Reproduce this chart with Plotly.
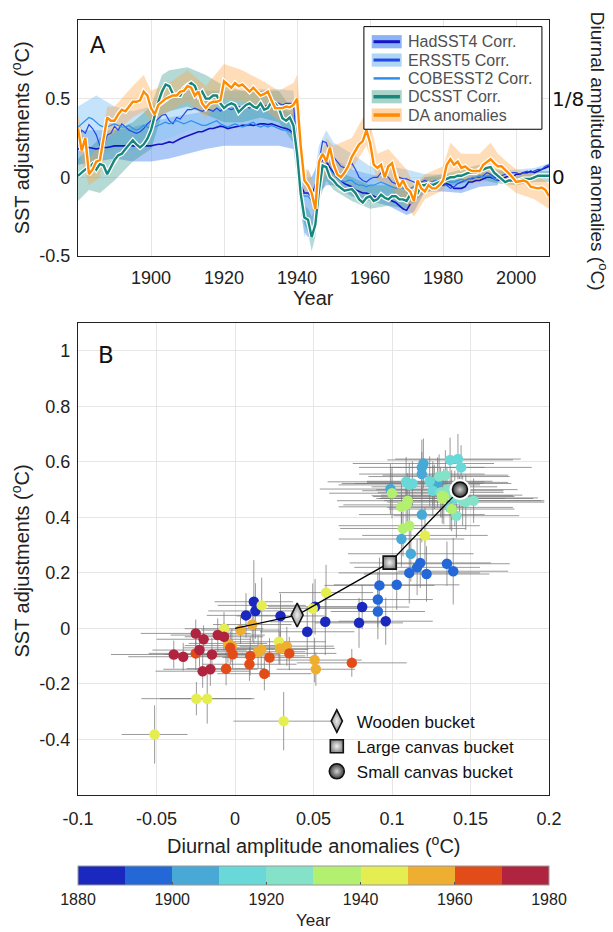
import plotly.graph_objects as go

# ---------------- Panel A data ----------------
YEARS = list(range(1880, 2010))

HADSST4 = [
    0.18, 0.185, 0.19, 0.19, 0.185, 0.18, 0.185, 0.19, 0.19, 0.195,
    0.20, 0.20, 0.20, 0.20, 0.205, 0.20, 0.20, 0.20, 0.20, 0.20,
    0.20, 0.205, 0.21, 0.21, 0.22, 0.225, 0.22, 0.235, 0.245, 0.255,
    0.265, 0.27, 0.28, 0.29, 0.29, 0.30, 0.31, 0.31, 0.32, 0.325,
    0.32, 0.31, 0.315, 0.32, 0.325, 0.33, 0.33, 0.335, 0.33, 0.335,
    0.34, 0.34, 0.335, 0.34, 0.33, 0.32, 0.315, 0.31, 0.30, 0.28,
    0.15, -0.05, -0.10, -0.10, -0.12, -0.05, 0.05, 0.12, 0.10, 0.06,
    0.03, 0.0, -0.02, -0.04, -0.05, -0.06, -0.08, -0.09, -0.10, -0.10,
    -0.11, -0.12, -0.13, -0.12, -0.13, -0.14, -0.15, -0.16, -0.18, -0.20,
    -0.21, -0.17, None, None, -0.06, -0.05, -0.04, -0.05, -0.05, -0.04,
    -0.05, -0.04, -0.05, -0.07, -0.07, -0.07, -0.06, -0.03, -0.03, -0.02,
    -0.02, -0.01, 0.0, 0.0, -0.01, -0.02, -0.01, 0.0, 0.01, 0.0,
    0.02, 0.02, 0.03, 0.03, 0.04, 0.03, 0.04, 0.05, 0.06, 0.07,
]
ERSST5 = [
    0.245, 0.30, 0.28, 0.335, 0.31, 0.27, 0.20, 0.19, 0.27, 0.28,
    0.325, 0.30, 0.34, 0.32, 0.30, 0.29, 0.28, 0.29, 0.31, 0.34,
    0.36, 0.35, 0.37, 0.395, 0.40, 0.36, 0.34, 0.38, 0.37, 0.40,
    0.43, 0.43, 0.44, 0.43, 0.42, 0.43, 0.43, 0.42, 0.44, 0.42,
    0.44, 0.44, 0.43, 0.44, 0.45, 0.445, 0.45, 0.44, 0.46, 0.45,
    0.44, 0.45, 0.46, 0.46, 0.48, 0.47, 0.46, 0.47, 0.47, 0.47,
    0.20, -0.10, -0.10, -0.10, -0.12, -0.08, 0.10, 0.23, 0.22, 0.15,
    0.13, 0.10, 0.07, 0.06, 0.07, 0.09, 0.05, 0.0, -0.02, -0.03,
    -0.01, 0.0, 0.0, 0.03, 0.02, 0.0, -0.03, -0.04, 0.0, -0.01,
    -0.01, -0.02, -0.03, -0.04, -0.03, -0.02, -0.03, -0.03, -0.02, -0.03,
    -0.04, -0.05, -0.07, -0.06, -0.04, -0.03, -0.02, -0.01, -0.01, 0.0,
    0.0, 0.01, 0.03, 0.02, 0.0, 0.0, 0.01, 0.02, 0.02, 0.03,
    0.03, 0.02, 0.03, 0.04, 0.03, 0.04, 0.05, 0.05, 0.07, 0.08,
]
COBESST2 = [
    0.32, 0.34, 0.36, 0.38, 0.37, 0.35, 0.33, 0.32, 0.32, 0.33,
    0.34, 0.33, 0.32, 0.32, 0.33, 0.31, 0.30, 0.31, 0.33, 0.32,
    0.31, 0.32, 0.33, 0.34, 0.35, 0.34, 0.35, 0.36, 0.35, 0.34,
    0.35, 0.36, 0.35, 0.34, 0.33, 0.33, 0.34, 0.35, 0.36, 0.34,
    0.33, 0.32, 0.33, 0.34, 0.33, 0.32, 0.33, 0.34, 0.35, 0.33,
    0.32, 0.33, 0.32, 0.33, 0.32, 0.31, 0.30, 0.30, 0.29, 0.27,
    0.10, -0.10, -0.12, -0.12, -0.15, -0.10, 0.02, 0.08, 0.07, 0.05,
    0.02, 0.0, -0.02, -0.03, -0.02, -0.02, -0.04, -0.05, -0.05, -0.06,
    -0.05, -0.05, -0.04, -0.03, -0.04, -0.05, -0.06, -0.07, -0.06, -0.07,
    -0.08, -0.07, -0.06, -0.05, -0.04, -0.04, -0.03, -0.03, -0.02, -0.03,
    -0.02, -0.02, -0.03, -0.03, -0.02, -0.01, -0.02, -0.01, 0.0, 0.0,
    0.01, 0.0, 0.01, 0.01, -0.01, -0.02, None, None, None, None,
    None, None, None, None, None, None, None, None, None, None,
]
DCSST = [
    0.01, 0.03, 0.05, 0.06, 0.085, 0.05, 0.085, 0.075, 0.02, 0.065,
    0.11, 0.14, 0.15, 0.18, 0.21, 0.235, 0.21, 0.19, 0.21, 0.245,
    0.30, 0.385, 0.48, 0.545, 0.59, 0.58, 0.53, 0.52, 0.52, 0.565,
    0.585, 0.60, 0.58, 0.52, 0.545, 0.50, 0.50, 0.52, 0.52, 0.47,
    0.44, 0.46, 0.47, 0.46, 0.415, 0.44, 0.46, 0.47, 0.45, 0.44,
    0.47, 0.43, 0.44, 0.48, 0.47, 0.44, 0.375, 0.36, 0.38, 0.33,
    0.15, -0.105, -0.256, -0.27, -0.38, -0.30, -0.085, 0.075, 0.065, 0.0,
    -0.02, -0.05, -0.07, -0.085, -0.08, -0.075, -0.10, -0.14, -0.16, -0.13,
    -0.12, -0.15, -0.14, -0.11, -0.13, -0.14, -0.12, -0.12, -0.14, -0.14,
    -0.15, -0.11, -0.09, -0.10, -0.05, -0.05, -0.04, -0.05, -0.04, -0.03,
    -0.02, -0.01, 0.0, 0.0, 0.01, 0.01, 0.02, 0.03, 0.03, 0.03,
    0.05, 0.05, 0.06, 0.065, 0.03, 0.01, -0.01, -0.03, -0.02, -0.02,
    -0.015, -0.02, -0.01, -0.01, -0.01, 0.0, 0.01, 0.01, 0.01, 0.01,
]
DA_ANOM = [
    0.31, 0.17, 0.25, 0.02, 0.05, 0.10, 0.11, 0.26, 0.38, 0.36,
    0.36, 0.40, 0.43, 0.42, 0.45, 0.48, 0.48, 0.49, 0.545, 0.52,
    0.44, 0.40, 0.46, 0.48, 0.50, 0.51, 0.52, 0.52, 0.545, 0.55,
    0.58, 0.57, 0.52, 0.545, 0.47, 0.44, 0.47, 0.48, 0.48, 0.49,
    0.61, 0.59, 0.57, 0.60, 0.58, 0.59, 0.57, 0.545, 0.57, 0.545,
    0.52, 0.53, 0.545, 0.49, 0.44, 0.44, 0.44, 0.45, 0.445, 0.46,
    0.50, 0.20, -0.02, -0.05, -0.10, -0.20, 0.10, 0.15, 0.10, 0.19,
    0.08, 0.02, 0.0, 0.03, 0.07, 0.13, 0.17, 0.21, 0.23, 0.30,
    0.22, 0.08, 0.06, 0.08, 0.0, 0.07, 0.09, 0.0, -0.06, -0.02,
    -0.07, -0.09, -0.15, -0.02, -0.07, -0.09, -0.05, -0.07, -0.07, -0.05,
    -0.02, 0.08, 0.115, 0.08, 0.10, 0.06, 0.07, 0.05, 0.04, 0.04,
    0.04, 0.08, 0.10, 0.115, 0.09, 0.07, 0.07, 0.05, 0.025, 0.0,
    -0.03, -0.025, -0.02, -0.03, -0.06, -0.065, -0.07, -0.065, -0.08, -0.12,
]

HAD_BAND_YEARS = [1880, 1885, 1890, 1895, 1900, 1905, 1910, 1915, 1920, 1925, 1930, 1935, 1939,
                  1940, 1941, 1942, 1943, 1944, 1945, 1946, 1948, 1950, 1955, 1960, 1965, 1970,
                  1972, 1975, 1980, 1985, 1990, 1995]
HAD_BAND_LO = [0.08, 0.10, 0.12, 0.10, 0.10, 0.12, 0.15, 0.18, 0.20, 0.20, 0.20, 0.20, 0.18,
               0.00, -0.20, -0.35, -0.38, -0.38, -0.30, -0.10, -0.05, -0.05, -0.12, -0.15, -0.18, -0.24,
               -0.22, -0.09, -0.09, -0.10, -0.06, -0.05]
HAD_BAND_HI = [0.30, 0.30, 0.30, 0.32, 0.35, 0.38, 0.40, 0.42, 0.45, 0.45, 0.45, 0.44, 0.40,
               0.30, 0.00, -0.05, 0.00, 0.00, 0.05, 0.10, 0.15, 0.12, 0.05, 0.02, 0.00, -0.05,
               -0.10, 0.00, 0.00, -0.02, 0.02, 0.02]

ERS_BAND_YEARS = [1880, 1885, 1890, 1895, 1900, 1905, 1910, 1915, 1920, 1925, 1930, 1935, 1939,
                  1940, 1941, 1942, 1943, 1944, 1945, 1946, 1948, 1950, 1955, 1960, 1965, 1970,
                  1975, 1980, 1985, 1990, 1995, 2000, 2005, 2009]
ERS_BAND_LO = [0.10, 0.12, 0.18, 0.17, 0.22, 0.25, 0.30, 0.30, 0.32, 0.32, 0.32, 0.33, 0.30,
               0.05, -0.20, -0.38, -0.30, -0.25, -0.20, 0.00, 0.10, 0.03, -0.03, -0.10, -0.10, -0.10,
               -0.07, -0.06, -0.06, -0.03, -0.03, -0.01, 0.00, 0.02]
ERS_BAND_HI = [0.45, 0.52, 0.45, 0.42, 0.45, 0.50, 0.55, 0.55, 0.55, 0.55, 0.56, 0.56, 0.55,
               0.35, 0.05, -0.02, 0.05, 0.00, 0.05, 0.20, 0.30, 0.22, 0.15, 0.07, 0.07, 0.05,
               0.02, 0.02, 0.00, 0.03, 0.04, 0.05, 0.06, 0.09]

DC_BAND_YEARS = [1880, 1883, 1886, 1890, 1895, 1900, 1903, 1905, 1910, 1915, 1920, 1925, 1930,
                 1935, 1939, 1940, 1941, 1942, 1943, 1944, 1945, 1946, 1948, 1950, 1955, 1960,
                 1965, 1970, 1975, 1980, 1985, 1990, 1995, 2000, 2005, 2009]
DC_BAND_LO = [-0.15, -0.08, -0.10, -0.02, 0.10, 0.18, 0.40, 0.42, 0.45, 0.40, 0.35, 0.35, 0.38,
              0.35, 0.22, 0.05, -0.20, -0.30, -0.35, -0.47, -0.38, -0.15, -0.02, -0.08, -0.15, -0.20,
              -0.18, -0.20, -0.10, -0.06, -0.04, -0.01, -0.04, -0.05, -0.03, -0.03]
DC_BAND_HI = [0.12, 0.18, 0.25, 0.30, 0.35, 0.45, 0.65, 0.68, 0.70, 0.65, 0.58, 0.55, 0.55,
              0.55, 0.42, 0.25, 0.00, -0.18, -0.20, -0.25, -0.20, 0.02, 0.15, 0.05, 0.00, -0.05,
              -0.05, -0.08, 0.00, 0.02, 0.05, 0.08, 0.05, 0.02, 0.04, 0.04]

DA_BAND_YEARS = [1880, 1883, 1886, 1888, 1890, 1895, 1898, 1900, 1905, 1910, 1915, 1920, 1925,
                 1930, 1935, 1939, 1940, 1941, 1942, 1943, 1944, 1945, 1946, 1948, 1950, 1955,
                 1959, 1960, 1962, 1965, 1970, 1972, 1975, 1980, 1982, 1985, 1990, 1993, 1995,
                 2000, 2005, 2009]
DA_BAND_LO = [0.20, -0.05, 0.00, 0.25, 0.28, 0.38, 0.42, 0.35, 0.42, 0.48, 0.38, 0.50, 0.48,
              0.45, 0.36, 0.38, 0.38, 0.10, -0.10, -0.12, -0.18, -0.30, -0.08, 0.02, 0.00, 0.05,
              0.20, 0.12, -0.02, -0.04, -0.18, -0.25, -0.14, -0.08, 0.02, -0.02, -0.04, 0.03, -0.01,
              -0.10, -0.14, -0.20]
DA_BAND_HI = [0.40, 0.12, 0.20, 0.45, 0.45, 0.58, 0.65, 0.55, 0.60, 0.68, 0.58, 0.72, 0.68,
              0.62, 0.55, 0.60, 0.65, 0.38, 0.05, 0.05, 0.00, -0.12, 0.10, 0.25, 0.20, 0.25,
              0.42, 0.35, 0.15, 0.18, 0.05, -0.05, 0.02, 0.07, 0.22, 0.15, 0.15, 0.22, 0.15,
              0.05, 0.02, -0.04]

LEGEND_A_NAMES = ["HadSST4 Corr.", "ERSST5 Corr.", "COBESST2 Corr.", "DCSST Corr.", "DA anomalies"]
XA_TICKS = [1900, 1920, 1940, 1960, 1980, 2000]
YA_TICKS = [-0.5, 0, 0.5]
YA_LABELS = ["-0.5", "0", "0.5"]
YA2_TICKS = [0, 0.5]
YA2_LABELS = ["0", "1/8"]

# ---------------- Panel B data ----------------
PT_YEAR = list(range(1880, 1980))
PT_X = [
    0.081, 0.079, 0.096, 0.0575, 0.046, 0.029, 0.012, 0.013, 0.007, 0.051,
    0.118, 0.116, 0.111, 0.122, 0.135, 0.139, 0.092, 0.103, 0.091, 0.091,
    0.120, 0.119, 0.119, 0.099, 0.126, 0.129, 0.127, 0.119, 0.106, 0.112,
    0.137, 0.142, 0.144, 0.109, 0.111, 0.126, 0.137, 0.113, 0.124, 0.140,
    0.130, 0.134, 0.141, 0.145, 0.152, 0.147, 0.135, 0.131, 0.143, 0.138,
    0.100, 0.132, 0.132, 0.110, 0.106, 0.107, 0.111, 0.138, 0.109, 0.133,
    0.121, 0.058, 0.0495, 0.017, -0.007, 0.028, -0.0246, -0.0177, -0.0512, 0.031,
    0.011, 0.0035, -0.0045, 0.0147, 0.0167, 0.0286, 0.033, 0.0507, 0.0515, -0.002,
    -0.003, -0.0015, -0.025, -0.0057, 0.0097, 0.0092, 0.0187, 0.022, 0.0346, 0.0744,
    -0.025, -0.020, -0.011, -0.007, -0.0226, -0.039, -0.033, -0.0147, -0.0206, -0.0157,
]
PT_Y = [
    0.077, 0.02, 0.026, 0.024, -0.012, 0.045, 0.096, 0.063, 0.047, 0.078,
    0.236, 0.22, 0.20, 0.196, 0.233, 0.206, 0.155, 0.157, 0.104, 0.061,
    0.594, 0.58, 0.556, 0.502, 0.522, 0.526, 0.51, 0.41, 0.322, 0.269,
    0.607, 0.61, 0.58, 0.528, 0.517, 0.496, 0.436, 0.522, 0.53, 0.468,
    0.547, 0.552, 0.406, 0.46, 0.46, 0.455, 0.50, 0.49, 0.47, 0.48,
    0.487, 0.478, 0.468, 0.46, 0.438, 0.36, 0.37, 0.43, 0.445, 0.475,
    0.335, 0.129, 0.072, 0.083, -0.001, -0.048, -0.253, -0.253, -0.382, -0.334,
    0.014, -0.006, -0.054, -0.084, -0.076, -0.072, -0.064, -0.114, -0.147, -0.062,
    -0.07, -0.093, -0.09, -0.145, -0.099, -0.129, -0.163, -0.105, -0.09, -0.124,
    -0.018, -0.039, -0.024, -0.030, -0.078, -0.094, -0.102, -0.094, -0.154, -0.147,
]
PT_XERR = [
    0.03, 0.028, 0.03, 0.035, 0.03, 0.028, 0.025, 0.03, 0.025, 0.03,
    0.045, 0.04, 0.045, 0.04, 0.04, 0.035, 0.035, 0.04, 0.035, 0.03,
    0.045, 0.04, 0.04, 0.045, 0.05, 0.045, 0.04, 0.04, 0.04, 0.04,
    0.04, 0.04, 0.045, 0.05, 0.045, 0.045, 0.04, 0.045, 0.04, 0.05,
    0.045, 0.04, 0.04, 0.05, 0.045, 0.05, 0.045, 0.04, 0.05, 0.045,
    0.04, 0.045, 0.04, 0.045, 0.04, 0.04, 0.045, 0.04, 0.04, 0.045,
    0.04, 0.03, 0.03, 0.028, 0.025, 0.03, 0.035, 0.03, 0.021, 0.032,
    0.025, 0.025, 0.025, 0.03, 0.03, 0.035, 0.03, 0.03, 0.025, 0.03,
    0.03, 0.03, 0.03, 0.025, 0.035, 0.03, 0.03, 0.03, 0.03, 0.035,
    0.035, 0.03, 0.03, 0.025, 0.03, 0.04, 0.035, 0.03, 0.03, 0.03,
]
PT_YERR = [
    0.08, 0.09, 0.085, 0.12, 0.09, 0.08, 0.15, 0.10, 0.08, 0.10,
    0.09, 0.10, 0.11, 0.10, 0.08, 0.12, 0.10, 0.09, 0.10, 0.10,
    0.09, 0.10, 0.08, 0.09, 0.08, 0.09, 0.08, 0.10, 0.10, 0.10,
    0.08, 0.09, 0.08, 0.09, 0.08, 0.09, 0.08, 0.08, 0.09, 0.10,
    0.08, 0.09, 0.08, 0.09, 0.08, 0.10, 0.08, 0.09, 0.08, 0.09,
    0.09, 0.08, 0.09, 0.10, 0.09, 0.10, 0.09, 0.08, 0.09, 0.10,
    0.10, 0.10, 0.09, 0.10, 0.06, 0.08, 0.06, 0.09, 0.105, 0.105,
    0.06, 0.05, 0.07, 0.06, 0.07, 0.06, 0.07, 0.08, 0.06, 0.06,
    0.06, 0.05, 0.06, 0.06, 0.07, 0.06, 0.06, 0.07, 0.06, 0.05,
    0.05, 0.05, 0.06, 0.05, 0.06, 0.05, 0.05, 0.06, 0.06, 0.06,
]

BUCKET_NAMES = ["Wooden bucket", "Large canvas bucket", "Small canvas bucket"]
BUCKET_X = [0.0396, 0.0985, 0.1433]
BUCKET_Y = [0.048, 0.237, 0.50]
PATH_X = [0.0, 0.0396, 0.0985, 0.1433]
PATH_Y = [0.0, 0.048, 0.237, 0.50]

BIN_COLORS = ['#1a28c0', '#2468d8', '#48a8d6', '#68d8d8', '#84e2c8',
              '#b4f070', '#e4ee50', '#eeae30', '#e24c18', '#b02440']
CB_TICKS = [1880, 1900, 1920, 1940, 1960, 1980]
XB_TICKS = [-0.1, -0.05, 0, 0.05, 0.1, 0.15, 0.2]
XB_LABELS = ["-0.1", "-0.05", "0", "0.05", "0.1", "0.15", "0.2"]
YB_TICKS = [-0.4, -0.2, 0, 0.2, 0.4, 0.6, 0.8, 1.0]
YB_LABELS = ["-0.4", "-0.2", "0", "0.2", "0.4", "0.6", "0.8", "1"]

# ---------------- Styling ----------------
FONT = "Liberation Sans, Arial, sans-serif"
TXT = "#222222"
GRID = "#e6e6e6"
TICK_SIZE = 18
TITLE_SIZE = 20
C_HAD, C_ERS, C_COB, C_DC, C_DA = '#1414c4', '#2448e6', '#2f8ff0', '#16877a', '#ff8c00'
F_HAD, F_ERS, F_DC, F_DA = 'rgba(90,145,240,0.50)', 'rgba(140,200,245,0.50)', 'rgba(30,140,125,0.33)', 'rgba(255,165,70,0.38)'

fig = go.Figure()


def add_band(years, lo, hi, color):
    fig.add_trace(go.Scatter(x=years + years[::-1], y=hi + lo[::-1], fill='toself',
                             fillcolor=color, line=dict(width=0), mode='lines',
                             hoverinfo='skip', showlegend=False, xaxis='x', yaxis='y'))


add_band(HAD_BAND_YEARS, HAD_BAND_LO, HAD_BAND_HI, F_HAD)
add_band(ERS_BAND_YEARS, ERS_BAND_LO, ERS_BAND_HI, F_ERS)
add_band(DC_BAND_YEARS, DC_BAND_LO, DC_BAND_HI, F_DC)
add_band(DA_BAND_YEARS, DA_BAND_LO, DA_BAND_HI, F_DA)


def add_line(y, color, width, axis='y', halo=False):
    if halo:
        fig.add_trace(go.Scatter(x=YEARS, y=y, mode='lines', line=dict(color='white', width=width + 2.4),
                                 showlegend=False, hoverinfo='skip', xaxis='x', yaxis=axis))
    fig.add_trace(go.Scatter(x=YEARS, y=y, mode='lines', line=dict(color=color, width=width),
                             showlegend=False, hoverinfo='skip', xaxis='x', yaxis=axis))


add_line(HADSST4, C_HAD, 1.6)
add_line(ERSST5, C_ERS, 1.2)
add_line(COBESST2, C_COB, 1.2)
add_line(DCSST, C_DC, 2.4, halo=True)
add_line(DA_ANOM, C_DA, 2.4, axis='y2', halo=True)

# ---------------- Panel B traces ----------------
scale = []
for i, c in enumerate(BIN_COLORS):
    scale.append([i / 10, c])
    scale.append([(i + 1) / 10 - 1e-6 if i < 9 else 1.0, c])

fig.add_trace(go.Scatter(
    x=PT_X, y=PT_Y, mode='markers', xaxis='x2', yaxis='y3', showlegend=False, hoverinfo='skip',
    error_x=dict(type='data', array=PT_XERR, color='rgba(120,120,120,0.75)', thickness=1, width=0),
    error_y=dict(type='data', array=PT_YERR, color='rgba(120,120,120,0.75)', thickness=1, width=0),
    marker=dict(size=10.5, color=PT_YEAR, colorscale=scale, cmin=1880, cmax=1980, line=dict(width=0),
                colorbar=dict(orientation='h', x=0.5, xanchor='center', lenmode='fraction', len=1.0,
                              y=-0.0916, yanchor='top', thickness=19, xpad=0, ypad=0,
                              outlinecolor='#999999', outlinewidth=1,
                              tickvals=CB_TICKS, ticktext=[str(v) for v in CB_TICKS],
                              ticks='inside', ticklen=3, tickcolor='#555555',
                              tickfont=dict(family=FONT, size=16, color=TXT)))
))

fig.add_trace(go.Scatter(x=PATH_X, y=PATH_Y, mode='lines', line=dict(color='black', width=1.3),
                         xaxis='x2', yaxis='y3', showlegend=False, hoverinfo='skip'))

sym = ['diamond-tall', 'square', 'circle']
msize = [17, 13, 15]
mcol = ['#8a8a8a', '#8a8a8a', '#3a3a3a']
gcol = ['#eeeeee', '#f2f2f2', '#d0d0d0']
for i, name in enumerate(BUCKET_NAMES):
    if sym[i] == 'circle':
        fig.add_trace(go.Scatter(x=[BUCKET_X[i]], y=[BUCKET_Y[i]], mode='markers', xaxis='x2', yaxis='y3',
                                 marker=dict(size=msize[i] + 6, color='white', line=dict(width=0)),
                                 showlegend=False, hoverinfo='skip'))
    fig.add_trace(go.Scatter(x=[BUCKET_X[i]], y=[BUCKET_Y[i]], mode='markers', name=name,
                             xaxis='x2', yaxis='y3', hoverinfo='skip',
                             marker=dict(symbol=sym[i], size=msize[i], color=mcol[i],
                                         gradient=dict(type='radial', color=gcol[i]),
                                         line=dict(color='#111111', width=1.6))))

# ---------------- Layout ----------------
axis_common = dict(showgrid=True, gridcolor=GRID, gridwidth=1, zeroline=False, showline=True,
                   mirror=True, linecolor='#222222', linewidth=1.3, ticks='',
                   tickfont=dict(family=FONT, size=TICK_SIZE, color=TXT))

fig.update_layout(
    width=613, height=932, margin=dict(l=78, r=64, t=20, b=137),
    paper_bgcolor='white', plot_bgcolor='white',
    font=dict(family=FONT, color=TXT),
    xaxis=dict(domain=[0, 1], range=[1880, 2009], anchor='y', tickvals=XA_TICKS,
               ticktext=[str(v) for v in XA_TICKS], ticklabelstandoff=5, **axis_common),
    yaxis=dict(domain=[0.6955, 1.0], range=[-0.5, 1.0], anchor='x', tickvals=YA_TICKS,
               ticktext=YA_LABELS, ticklabelstandoff=3, **axis_common),
    yaxis2=dict(overlaying='y', side='right', anchor='x', range=[-0.5, 1.0], tickvals=YA2_TICKS,
                ticktext=YA2_LABELS, showgrid=False, zeroline=False, showline=False, ticks='',
                ticklabelstandoff=2, tickfont=dict(family="DejaVu Sans, sans-serif", size=20, color='#111111')),
    xaxis2=dict(domain=[0, 1], range=[-0.1, 0.2], anchor='y3', tickvals=XB_TICKS,
                ticktext=XB_LABELS, ticklabelstandoff=7, **axis_common),
    yaxis3=dict(domain=[0, 0.609], range=[-0.6, 1.1], anchor='x2', tickvals=YB_TICKS,
                ticktext=YB_LABELS, ticklabelstandoff=3, **axis_common),
    legend=dict(x=0.507, y=0.118, xanchor='left', yanchor='top', bgcolor='rgba(0,0,0,0)',
                font=dict(family=FONT, size=17, color='#111111'), itemwidth=30, tracegroupgap=0),
)

# custom legend for panel A
shapes = [dict(type='rect', xref='x domain', yref='y domain', x0=0.607, x1=0.985, y0=0.537, y1=0.972,
               line=dict(color='black', width=1), fillcolor='white', layer='above')]
patch_cols = ['#8cb3f6', '#b0d6f6', None, '#a8d3cb', '#ffd4a6']
line_cols = [C_HAD, C_ERS, C_COB, C_DC, C_DA]
line_w = [3, 3, 2.5, 3.5, 3.5]
annotations = []
for i, name in enumerate(LEGEND_A_NAMES):
    yc = 0.908 - i * 0.0777
    if patch_cols[i]:
        shapes.append(dict(type='rect', xref='x domain', yref='y domain', x0=0.6236, x1=0.6873,
                           y0=yc - 0.028, y1=yc + 0.028, line=dict(width=0), fillcolor=patch_cols[i],
                           layer='above'))
    shapes.append(dict(type='line', xref='x domain', yref='y domain', x0=0.6275, x1=0.6835,
                       y0=yc, y1=yc, line=dict(color=line_cols[i], width=line_w[i]), layer='above'))
    annotations.append(dict(text=name, xref='x domain', yref='y domain', x=0.697, y=yc,
                            xanchor='left', yanchor='middle', showarrow=False,
                            font=dict(family=FONT, size=16, color='#505050')))

annotations += [
    dict(text='A', xref='x domain', yref='y domain', x=0.022, y=0.896, xanchor='left', yanchor='middle',
         showarrow=False, font=dict(family=FONT, size=23, color='#111111')),
    dict(text='B', xref='x2 domain', yref='y3 domain', x=0.038, y=0.932, xanchor='left', yanchor='middle',
         showarrow=False, font=dict(family="DejaVu Sans, sans-serif", size=23, color='#111111')),
    dict(text='SST adjustments (<sup>o</sup>C)', xref='paper', yref='paper', x=-0.122, y=0.848,
         textangle=-90, showarrow=False, xanchor='center', yanchor='middle',
         font=dict(family=FONT, size=TITLE_SIZE, color=TXT)),
    dict(text='SST adjustments (<sup>o</sup>C)', xref='paper', yref='paper', x=-0.122, y=0.302,
         textangle=-90, showarrow=False, xanchor='center', yanchor='middle',
         font=dict(family=FONT, size=TITLE_SIZE, color=TXT)),
    dict(text='Diurnal amplitude anomalies (<sup>o</sup>C)', xref='paper', yref='paper', x=1.106, y=0.83,
         textangle=90, showarrow=False, xanchor='center', yanchor='middle',
         font=dict(family=FONT, size=19, color=TXT)),
    dict(text='Year', xref='paper', yref='paper', x=0.5, y=0.641, showarrow=False,
         xanchor='center', yanchor='middle', font=dict(family=FONT, size=TITLE_SIZE, color=TXT)),
    dict(text='Diurnal amplitude anomalies (<sup>o</sup>C)', xref='paper', yref='paper', x=0.5, y=-0.0645,
         showarrow=False, xanchor='center', yanchor='middle', font=dict(family=FONT, size=TITLE_SIZE, color=TXT)),
    dict(text='Year', xref='paper', yref='paper', x=0.5, y=-0.1625, showarrow=False,
         xanchor='center', yanchor='middle', font=dict(family=FONT, size=17, color=TXT)),
]

fig.update_layout(shapes=shapes, annotations=annotations)
fig.write_html("out.html")
